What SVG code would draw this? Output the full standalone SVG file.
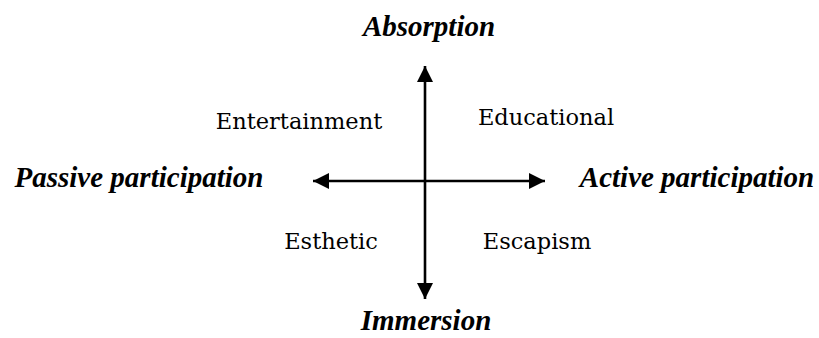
<svg xmlns="http://www.w3.org/2000/svg" width="819" height="338" viewBox="0 0 819 338">
<style>
.axis{font-family:"Liberation Serif","Times New Roman",serif;font-weight:bold;font-style:italic;font-size:29px;fill:#000;text-anchor:middle}
.quad{font-family:"DejaVu Serif",serif;font-size:22.5px;fill:#000;text-anchor:middle}
.line{stroke:#000;stroke-width:2.6;fill:none}
</style>
<defs>
<marker id="ah" viewBox="0 0 10 10" refX="10" refY="5" markerWidth="6.2" markerHeight="6.2" markerUnits="strokeWidth" orient="auto-start-reverse">
<path d="M0,0 L10,5 L0,10 Z" fill="#000"/>
</marker>
</defs>
<g id="connectors">
<line class="line" x1="425" y1="299" x2="425" y2="66" marker-start="url(#ah)" marker-end="url(#ah)"/>
<line class="line" x1="313" y1="181" x2="545" y2="181" marker-start="url(#ah)" marker-end="url(#ah)"/>
</g>
<g id="absorption"><text class="axis" x="429" y="36">Absorption</text></g>
<g id="immersion"><text class="axis" x="426" y="330" font-size="28">Immersion</text></g>
<g id="passive"><text class="axis" x="139" y="187">Passive participation</text></g>
<g id="active"><text class="axis" x="697" y="187">Active participation</text></g>
<g id="entertainment"><text class="quad" x="299" y="129">Entertainment</text></g>
<g id="educational"><text class="quad" x="546" y="125">Educational</text></g>
<g id="esthetic"><text class="quad" x="331" y="249">Esthetic</text></g>
<g id="escapism"><text class="quad" x="537" y="249">Escapism</text></g>
</svg>
